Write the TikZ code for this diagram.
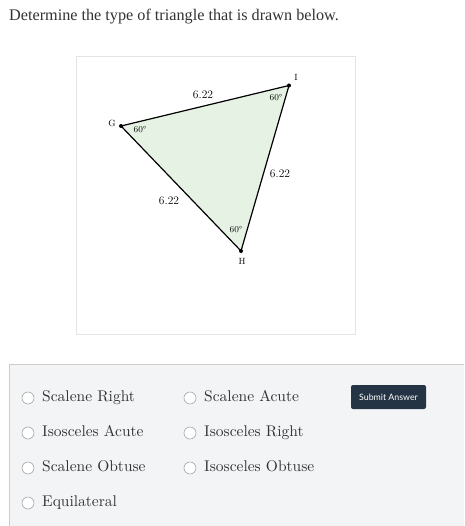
\documentclass[tikz,border=0pt]{standalone}
\usepackage{fontspec}
\newfontfamily\titlefont{Liberation Serif}
\newfontfamily\btnfont{Lato}
\newfontfamily\optfont{lmroman10-regular}[Extension=.otf]
\definecolor{txt}{HTML}{333333}
\definecolor{panel}{HTML}{F2F4F6}
\definecolor{panelline}{HTML}{CCCCCC}
\definecolor{trifill}{HTML}{E6F2E4}
\definecolor{btn}{HTML}{253445}
\definecolor{boxline}{HTML}{E4E4E4}
\begin{document}
\begin{tikzpicture}[x=1pt,y=-1pt,
  vlabel/.style={font=\fontsize{9}{9}\selectfont, inner sep=0pt},
  elabel/.style={font=\fontsize{11.5}{11.5}\selectfont, inner sep=0pt},
  alabel/.style={font=\fontsize{9}{9}\selectfont, inner sep=0pt},
  opt/.style={font=\optfont\fontsize{15.5}{15.5}\selectfont, anchor=base west, inner sep=0pt, text=txt},
  radio/.style={circle, draw=gray!70, fill=white, minimum size=12pt, inner sep=0pt, line width=0.6pt},
  vdot/.style={circle, fill=black, inner sep=0pt, minimum size=4pt}]
\useasboundingbox (0,0) rectangle (464,526);
\fill[white] (0,0) rectangle (464,526);
% title
\node[anchor=base west, inner sep=0pt, text=txt, font=\titlefont\fontsize{16.2}{16.2}\selectfont] (title) at (9,21) {Determine the type of triangle that is drawn below.};
% plot box
\draw[boxline, line width=0.6pt] (76.5,56.5) rectangle (355.5,334.5);
% triangle
\coordinate (G) at (121,126);
\coordinate (I) at (289,85.5);
\coordinate (H) at (241,251);
\fill[trifill] (G) -- (I) -- (H) -- cycle;
\draw[line width=1.2pt, line join=round] (G) -- (I) -- (H) -- cycle;
\node[vdot] (Gd) at (G) {};
\node[vdot] (Id) at (I) {};
\node[vdot] (Hd) at (H) {};
\node[vlabel] (Gl) at (112,123) {G};
\node[vlabel] (Il) at (296,77) {I};
\node[vlabel] (Hl) at (242,261) {H};
\node[elabel] (e1) at (203,95) {6.22};
\node[elabel] (e2) at (280,174) {6.22};
\node[elabel] (e3) at (169,201) {6.22};
\node[alabel] (a1) at (140,130) {60°};
\node[alabel] (a2) at (276,98) {60°};
\node[alabel] (a3) at (236,230) {60°};
% answer panel
\fill[panel] (9,364) rectangle (464,526);
\draw[panelline, line width=0.6pt] (9,526) -- (9,364) -- (464,364);
\node[radio] (r1) at (28,398) {};
\node[radio] (r2) at (28,433) {};
\node[radio] (r3) at (28,468) {};
\node[radio] (r4) at (28,503) {};
\node[radio] (r5) at (190,398) {};
\node[radio] (r6) at (190,433) {};
\node[radio] (r7) at (190,468) {};
\node[opt] (o1) at (42,401) {Scalene Right};
\node[opt] (o2) at (42,436) {Isosceles Acute};
\node[opt] (o3) at (42,471) {Scalene Obtuse};
\node[opt] (o4) at (42,506) {Equilateral};
\node[opt] (o5) at (204,401) {Scalene Acute};
\node[opt] (o6) at (204,436) {Isosceles Right};
\node[opt] (o7) at (204,471) {Isosceles Obtuse};
% button
\node[fill=btn, rounded corners=2pt, minimum width=75pt, minimum height=24pt, inner sep=0pt, text=white, font=\btnfont\fontsize{8.8}{8.8}\selectfont] (btn) at (388.5,397) {Submit Answer};
\end{tikzpicture}
\end{document}
